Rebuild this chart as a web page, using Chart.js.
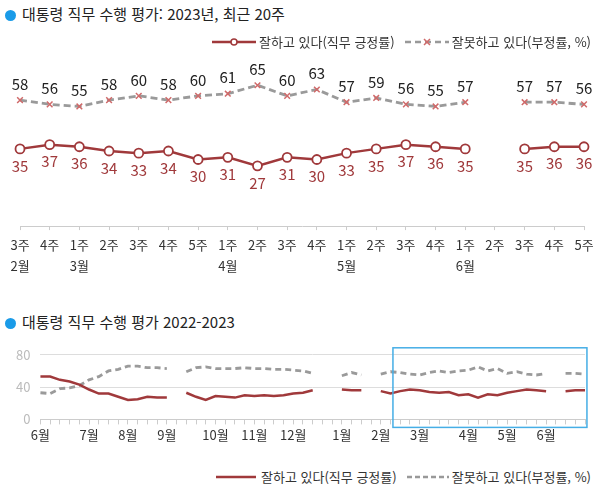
<!DOCTYPE html>
<html lang="ko">
<head>
<meta charset="utf-8">
<script src="https://cdn.jsdelivr.net/npm/chart.js@4.4.0/dist/chart.umd.min.js"></script>
<style>
body { margin: 0; background: #fff; font-family: 'Noto Sans CJK KR', 'Noto Sans', sans-serif; }
#wrap { position: relative; width: 601px; height: 492px; overflow: hidden; }
.title { position: absolute; left: 5px; font-size: 15px; color: #222; white-space: nowrap; line-height: 20px; }
.title .dot { display: inline-block; width: 11px; height: 11px; border-radius: 50%; background: #1a9be8; margin-right: 6px; vertical-align: -1px; }
.legend { position: absolute; right: 10px; font-size: 13px; color: #333; white-space: nowrap; display: flex; align-items: center; line-height: 18px; }
.legend svg { margin-right: 3px; }
.legend .gap { width: 10px; }
canvas { position: absolute; left: 0; }
</style>
</head>
<body>
<div id="wrap">
  <div class="title" style="top:4px"><span class="dot"></span>대통령 직무 수행 평가: 2023년, 최근 20주</div>
  <canvas id="chartTop" width="601" height="285" style="top:0"></canvas>
  <div class="legend" style="top:33px">
    <svg width="44" height="12"><line x1="0" y1="6" x2="44" y2="6" stroke="#a0393b" stroke-width="2.5"/><circle cx="22" cy="6" r="3" fill="#fff" stroke="#a0393b" stroke-width="1.5"/></svg>
    <span>잘하고 있다(직무 긍정률)</span>
    <span class="gap"></span>
    <svg width="44" height="12"><line x1="0" y1="6" x2="44" y2="6" stroke="#999" stroke-width="2.5" stroke-dasharray="6,4"/><path d="M19 3 L25 9 M25 3 L19 9" stroke="#d06a6a" stroke-width="1.5"/></svg>
    <span>잘못하고 있다(부정률, %)</span>
  </div>

  <div class="title" style="top:312px"><span class="dot"></span>대통령 직무 수행 평가 2022-2023</div>
  <canvas id="chartBottom" width="601" height="109" style="top:337px"></canvas>
  <div class="legend" style="top:468px">
    <svg width="42" height="12"><line x1="0" y1="6" x2="40" y2="6" stroke="#a0393b" stroke-width="2.5"/></svg>
    <span>잘하고 있다(직무 긍정률)</span>
    <span class="gap"></span>
    <svg width="42" height="12"><line x1="0" y1="6" x2="42" y2="6" stroke="#999" stroke-width="2.5" stroke-dasharray="5,3"/></svg>
    <span>잘못하고 있다(부정률, %)</span>
  </div>
</div>

<script>
// 최근 20주
const topWeeks = ['3주','4주','1주','2주','3주','4주','5주','1주','2주','3주','4주','1주','2주','3주','4주','1주','2주','3주','4주','5주'];
const topMonths = ['2월','','3월','','','','','4월','','','','5월','','','','6월','','','',''];
const topApprove = [35,37,36,34,33,34,30,31,27,31,30,33,35,37,36,35,null,35,36,36];
const topDisapprove = [58,56,55,58,60,58,60,61,65,60,63,57,59,56,55,57,null,57,57,56];

// 2022-2023 주간
const bottomMonths = [
  '6월','','','','',
  '7월','','','',
  '8월','','','',
  '9월','','','','',
  '10월','','','',
  '11월','','','',
  '12월','','','','',
  '1월','','','',
  '2월','','','',
  '3월','','','','',
  '4월','','','',
  '5월','','','',
  '6월','','','',''
];
const bottomApprove = [
  53,53,49,47,43,
  37,32,32,28,
  24,25,28,27,
  27,null,33,28,24,
  29,28,27,30,
  29,30,29,30,
  32,33,36,null,null,
  37,36,36,null,
  35,32,35,37,
  36,34,33,34,30,
  31,27,31,30,
  33,35,37,36,
  35,null,35,36,36
];
const bottomDisapprove = [
  33,32,38,39,42,
  49,53,60,62,
  66,66,64,64,
  63,null,59,64,65,
  63,63,63,64,
  63,63,62,62,
  61,60,57,null,null,
  54,58,55,null,
  56,59,58,56,
  55,58,60,58,60,
  61,65,60,63,
  57,59,56,55,
  57,null,57,57,56
];

const RED = '#a0393b';
const GREY = '#9a9a9a';
const FONT = "'Noto Sans CJK KR', 'Noto Sans', sans-serif";

// 값 라벨
const valueLabels = {
  id: 'valueLabels',
  afterDatasetsDraw(chart, args, opts) {
    if (!opts.show) return;
    const ctx = chart.ctx;
    chart.data.datasets.forEach((ds, di) => {
      const meta = chart.getDatasetMeta(di);
      meta.data.forEach((pt, i) => {
        const v = ds.data[i];
        if (v == null) return;
        ctx.save();
        ctx.font = '15px ' + FONT;
        ctx.fillStyle = opts.colors[di];
        ctx.textAlign = 'center';
        ctx.textBaseline = 'middle';
        ctx.fillText(v, pt.x, pt.y + opts.offsets[di]);
        ctx.restore();
      });
    });
  }
};

// 최근 20주 구간 박스
const recentBox = {
  id: 'recentBox',
  afterDraw(chart, args, opts) {
    if (!opts.show) return;
    const x = chart.scales.x, y = chart.scales.y;
    const step = x.getPixelForValue(1) - x.getPixelForValue(0);
    const left = x.getPixelForValue(opts.from) - step * 0.75;
    const right = x.getPixelForValue(opts.to) + step * 0.2;
    const ctx = chart.ctx;
    ctx.save();
    ctx.strokeStyle = '#45aee6';
    ctx.lineWidth = 1.5;
    ctx.strokeRect(left, y.top - 7, right - left, y.bottom - y.top + 15);
    ctx.restore();
  }
};

new Chart(document.getElementById('chartTop'), {
  type: 'line',
  data: {
    labels: topWeeks.map((w, i) => [w, topMonths[i]]),
    datasets: [
      { data: topApprove, borderColor: RED, borderWidth: 2.5, pointStyle: 'circle', pointRadius: 4.5,
        pointBackgroundColor: '#fff', pointBorderColor: RED, pointBorderWidth: 1.8, tension: 0, spanGaps: false },
      { data: topDisapprove, borderColor: GREY, borderWidth: 2.8, borderDash: [7, 4], pointStyle: 'crossRot', pointRadius: 4,
        pointBorderColor: '#d06a6a', pointBorderWidth: 1.5, tension: 0, spanGaps: false }
    ]
  },
  options: {
    responsive: false,
    animation: false,
    layout: { padding: { left: 20, right: 17, top: 11, bottom: 4 } },
    plugins: {
      legend: { display: false },
      tooltip: { enabled: false },
      valueLabels: { show: true, colors: [RED, '#222'], offsets: [17, -16] }
    },
    scales: {
      x: {
        offset: false,
        grid: { drawOnChartArea: false, drawTicks: true, tickLength: 4, color: '#ccc' },
        border: { color: '#ccc' },
        ticks: { color: '#333', font: { family: FONT, size: 13, lineHeight: 1.65 }, maxRotation: 0, autoSkip: false, padding: 4 }
      },
      y: { display: false, min: -1.4, max: 100 }
    }
  },
  plugins: [valueLabels]
});

new Chart(document.getElementById('chartBottom'), {
  type: 'line',
  data: {
    labels: bottomMonths,
    datasets: [
      { data: bottomApprove, borderColor: RED, borderWidth: 2.5, pointRadius: 0, tension: 0, spanGaps: false },
      { data: bottomDisapprove, borderColor: GREY, borderWidth: 2.8, borderDash: [6, 4], pointRadius: 0, tension: 0, spanGaps: false }
    ]
  },
  options: {
    responsive: false,
    animation: false,
    layout: { padding: { left: 6, right: 16, top: 14, bottom: 0 } },
    plugins: {
      legend: { display: false },
      tooltip: { enabled: false },
      recentBox: { show: true, from: 37, to: 56 }
    },
    scales: {
      x: {
        offset: false,
        grid: { drawOnChartArea: false, drawTicks: true, tickLength: 5, color: '#ccc' },
        border: { color: '#ccc' },
        ticks: { color: '#333', font: { family: FONT, size: 13 }, maxRotation: 0, autoSkip: false, padding: 3 }
      },
      y: {
        min: 0, max: 80,
        grid: { color: '#ddd', drawTicks: false },
        border: { display: false },
        ticks: { stepSize: 20, color: '#bbb', font: { family: FONT, size: 13 }, padding: 10 }
      }
    }
  },
  plugins: [recentBox]
});
</script>
</body>
</html>
